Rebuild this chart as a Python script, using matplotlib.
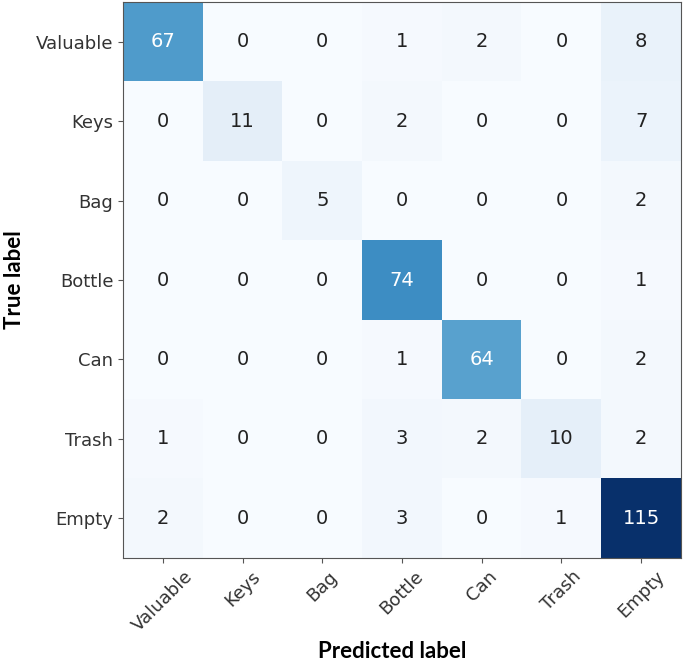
import matplotlib
matplotlib.use("Agg")
import matplotlib.pyplot as plt
import numpy as np

plt.rcParams["font.family"] = ["DejaVu Sans"]

classes = ["Valuable", "Keys", "Bag", "Bottle", "Can", "Trash", "Empty"]
row_valuable = [67, 0, 0, 1, 2, 0, 8]
row_keys = [0, 11, 0, 2, 0, 0, 7]
row_bag = [0, 0, 5, 0, 0, 0, 2]
row_bottle = [0, 0, 0, 74, 0, 0, 1]
row_can = [0, 0, 0, 1, 64, 0, 2]
row_trash = [1, 0, 0, 3, 2, 10, 2]
row_empty = [2, 0, 0, 3, 0, 1, 115]

cm = np.array([row_valuable, row_keys, row_bag, row_bottle, row_can, row_trash, row_empty])

fig = plt.figure(figsize=(6.85, 6.64), dpi=100)
ax = fig.add_axes([123/685, 1 - 558/664, 558/685, 556/664])
ax.imshow(cm, cmap="Blues", aspect="auto", interpolation="nearest")
thresh = cm.max() / 2
for i in range(cm.shape[0]):
    for j in range(cm.shape[1]):
        ax.text(j, i, str(cm[i, j]), ha="center", va="center", fontsize=14,
                family="DejaVu Sans",
                color="white" if cm[i, j] > thresh else "#222222")
ax.set_xticks(range(len(classes)))
ax.set_yticks(range(len(classes)))
ax.set_xticklabels(classes, rotation=45, ha="center",
                   fontsize=13, family="DejaVu Sans")
ax.set_yticklabels(classes, fontsize=13, family="DejaVu Sans")
for s in ax.spines.values():
    s.set_color("#555555")
ax.tick_params(colors="#555555")
for t in ax.get_xticklabels() + ax.get_yticklabels():
    t.set_color("#333333")

fig.text(392/685, 1 - 651/664, "Predicted label", ha="center", va="center",
         fontsize=16, fontweight="bold", family="Lato")
fig.text(15/685, 1 - 280/664, "True label", ha="center", va="center", rotation=90,
         fontsize=16, fontweight="bold", family="Lato")

fig.savefig("out.png", dpi=100)
